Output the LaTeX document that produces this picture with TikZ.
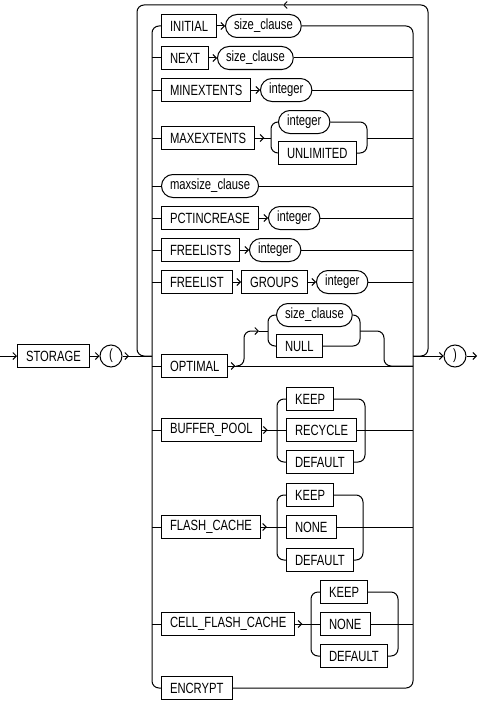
\documentclass[tikz,border=0pt]{standalone}
\usepackage{fontspec}
\setmainfont[FakeStretch=0.76]{Liberation Sans}
\usetikzlibrary{arrows.meta,decorations.markings}

\begin{document}
\begin{tikzpicture}[x=1pt, y=-1pt, line width=1pt,
    >={Straight Barb[length=3.5pt,width=7pt]},
    kw/.style={draw, rectangle, anchor=west, minimum height=23pt, inner xsep=8.5pt, inner ysep=0pt, font=\fontsize{14.8}{15}\selectfont},
    var/.style={kw, rounded corners=11.5pt},
    sym/.style={draw, circle, minimum size=22pt, inner sep=0pt, font=\fontsize{14.8}{15}\selectfont},
    midarr/.style={postaction={decorate}, decoration={markings, mark=at position #1 with {\arrow{>}}}},
    rnd/.style={rounded corners=7pt}]

    \useasboundingbox (0,0) rectangle (477,701);

    \node[kw] (storage) at (17,356) {STORAGE};
    \node[sym] (lpar) at (111,356) {(};
    \node[sym] (rpar) at (455,356) {)};

    \node[kw] (initial) at (161,26) {INITIAL};
    \node[var] (initsize) at (225,26) {size\_clause};
    \node[kw] (next) at (161,58) {NEXT};
    \node[var] (nextsize) at (217,58) {size\_clause};
    \node[kw] (minext) at (161,90) {MINEXTENTS};
    \node[var] (minint) at (260,90) {integer};
    \node[kw] (maxext) at (161,138) {MAXEXTENTS};
    \node[var] (maxint) at (278,122) {integer};
    \node[kw] (unlimited) at (278,153) {UNLIMITED};
    \node[var] (maxsize) at (161,186) {maxsize\_clause};
    \node[kw] (pctinc) at (161,218) {PCTINCREASE};
    \node[var] (pctint) at (268,218) {integer};
    \node[kw] (freelists) at (161,250) {FREELISTS};
    \node[var] (flsint) at (249,250) {integer};
    \node[kw] (freelist) at (161,282) {FREELIST};
    \node[kw] (groups) at (241,282) {GROUPS};
    \node[var] (grpint) at (316,282) {integer};
    \node[kw] (optimal) at (161,366) {OPTIMAL};
    \node[var] (optsize) at (276,315) {size\_clause};
    \node[kw] (optnull) at (276,346) {NULL};
    \node[kw] (bufpool) at (161,430) {BUFFER\_POOL};
    \node[kw] (bpkeep) at (286,399) {KEEP};
    \node[kw] (bprecycle) at (286,430) {RECYCLE};
    \node[kw] (bpdefault) at (286,462) {DEFAULT};
    \node[kw] (flash) at (161,527) {FLASH\_CACHE};
    \node[kw] (fckeep) at (286,495) {KEEP};
    \node[kw] (fcnone) at (286,527) {NONE};
    \node[kw] (fcdefault) at (286,560) {DEFAULT};
    \node[kw] (cellflash) at (161,624) {CELL\_FLASH\_CACHE};
    \node[kw] (cfkeep) at (320,592) {KEEP};
    \node[kw] (cfnone) at (320,624) {NONE};
    \node[kw] (cfdefault) at (320,656) {DEFAULT};
    \node[kw] (encrypt) at (161,688) {ENCRYPT};

    \coordinate (entry) at (0,356);
    \coordinate (exit) at (477,356);
    \coordinate (lj) at (152,356);
    \coordinate (rj) at (413,356);
    \coordinate (lvb) at (152,688);
    \coordinate (rvb) at (413,688);
    \coordinate (loopl) at (137,5);
    \coordinate (loopr) at (428,5);
    \coordinate (back) at (283,5);

    \draw[->] (entry) -- (storage);
    \draw[->] (storage) -- (lpar);
    \draw[midarr=6.5pt] (lpar) -- (lj);
    \draw[->] (rj) -- (rpar);
    \draw[->] (rpar) -- (exit);
    \draw[rnd,->] (rj) -| (loopr) -- (back);
    \draw[rnd] (back) -- (loopl) |- (lj);

    \draw[rnd] (initial) -| (lvb) -- (encrypt);
    \draw[rnd] (initsize) -| (rvb) -- (encrypt);
    \foreach \n in {next,minext,maxext,maxsize,pctinc,freelists,freelist,optimal,bufpool,flash,cellflash}
        \draw (lvb |- \n) -- (\n);
    \foreach \n in {nextsize,minint,maxsize,pctint,flsint,grpint}
        \draw (\n) -- (rvb |- \n);

    \draw[->] (initial) -- (initsize);
    \draw[->] (next) -- (nextsize);
    \draw[->] (minext) -- (minint);
    \draw[->] (pctinc) -- (pctint);
    \draw[->] (freelists) -- (flsint);
    \draw[->] (freelist) -- (groups);
    \draw[->] (groups) -- (grpint);

    \coordinate (mxa) at (271,153);
    \coordinate (mxb) at (367,153);
    \draw[midarr=9pt] (maxext) -- (mxa |- maxext);
    \draw[rnd] (maxint) -| (mxa) -- (unlimited);
    \draw[rnd] (maxint) -| (mxb) -- (unlimited);
    \draw (mxb |- maxext) -- (rvb |- maxext);

    \coordinate (opa) at (236,366);
    \coordinate (opv) at (244,331);
    \coordinate (opb) at (259,331);
    \coordinate (opl) at (268,346);
    \coordinate (opr) at (360,346);
    \coordinate (opw) at (384,366);
    \draw[midarr=7pt] (optimal) -- (rvb |- optimal);
    \draw[rnd,->] (opa) -| (opv) -- (opb);
    \draw (opb) -- (opl |- opb);
    \draw[rnd] (optsize) -| (opl) -- (optnull);
    \draw[rnd] (optsize) -| (opr) -- (optnull);
    \draw[rnd] (opr |- opv) -| (opw) -- (rvb |- opw);

    \coordinate (bpa) at (277,462);
    \coordinate (bpb) at (365,462);
    \draw[midarr=6pt] (bufpool) -- (bprecycle);
    \draw[rnd] (bpkeep) -| (bpa) -- (bpdefault);
    \draw[rnd] (bpkeep) -| (bpb) -- (bpdefault);
    \draw (bprecycle) -- (rvb |- bprecycle);

    \coordinate (fca) at (277,560);
    \coordinate (fcb) at (363,560);
    \draw[midarr=6pt] (flash) -- (fcnone);
    \draw[rnd] (fckeep) -| (fca) -- (fcdefault);
    \draw[rnd] (fckeep) -| (fcb) -- (fcdefault);
    \draw (fcnone) -- (rvb |- fcnone);

    \coordinate (cfa) at (311,656);
    \coordinate (cfb) at (398,656);
    \draw[midarr=7pt] (cellflash) -- (cfnone);
    \draw[rnd] (cfkeep) -| (cfa) -- (cfdefault);
    \draw[rnd] (cfkeep) -| (cfb) -- (cfdefault);
    \draw (cfnone) -- (rvb |- cfnone);

\end{tikzpicture}
\end{document}
